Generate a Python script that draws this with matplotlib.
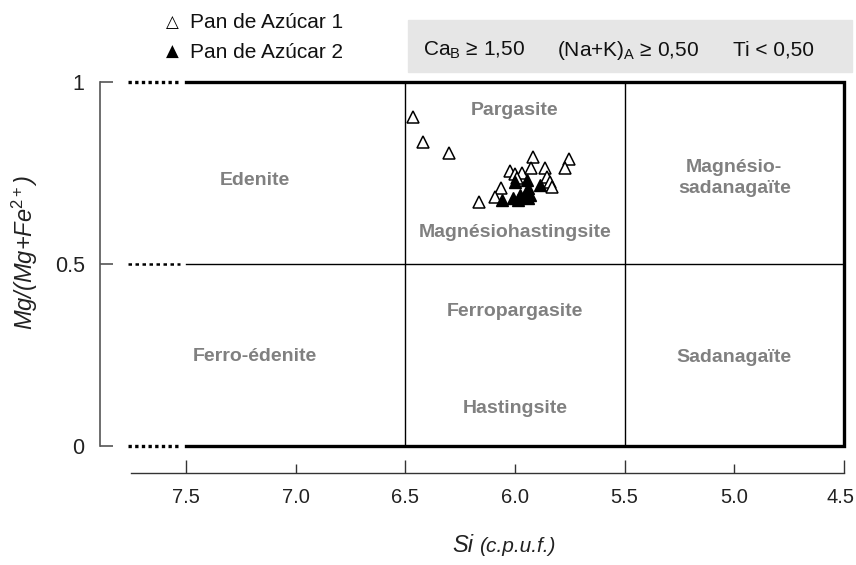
import matplotlib
matplotlib.use("Agg")
import matplotlib.pyplot as plt
from matplotlib.patches import Rectangle
from matplotlib.transforms import ScaledTranslation

plt.rcParams['font.family'] = ['Liberation Sans', 'DejaVu Sans']
plt.rcParams['mathtext.fontset'] = 'custom'
plt.rcParams['mathtext.rm'] = 'Liberation Sans'
plt.rcParams['mathtext.it'] = 'Liberation Sans:italic'

# Pan de Azucar 1 (open triangles)
si_1 = [6.463, 6.418, 6.302, 6.165, 6.064, 6.091, 6.023, 6.000, 5.969, 5.916,
        5.927, 5.863, 5.855, 5.840, 5.832, 5.754, 5.772, 5.990]
mg_1 = [0.902, 0.835, 0.805, 0.669, 0.707, 0.683, 0.756, 0.747, 0.750, 0.792,
        0.762, 0.764, 0.738, 0.726, 0.710, 0.787, 0.762, 0.735]

# Pan de Azucar 2 (filled triangles)
si_2 = [6.060, 6.000, 6.007, 5.977, 5.946, 5.939, 5.939, 5.960, 5.886, 5.930, 5.985]
mg_2 = [0.675, 0.726, 0.680, 0.689, 0.730, 0.707, 0.680, 0.683, 0.716, 0.690, 0.675]

# field names and where they sit
fields = ['Edenite', 'Pargasite', 'Magnésiohastingsite', 'Magnésio-\nsadanagaïte',
          'Ferro-édenite', 'Ferropargasite', 'Hastingsite', 'Sadanagaïte']
field_x = [7.185, 6.0, 6.0, 5.0, 7.185, 6.0, 6.0, 5.0]
field_y = [0.73, 0.922, 0.585, 0.736, 0.247, 0.368, 0.104, 0.244]

W, H = 856, 565
fig = plt.figure(figsize=(W / 100, H / 100), dpi=100)
ax = fig.add_axes([100 / W, 1 - 446 / H, (844 - 100) / W, (446 - 81.7) / H])
ax.set_xlim(7.892, 4.5)
ax.set_ylim(0, 1)

# axes styling
ax.spines['top'].set_visible(False)
ax.spines['right'].set_visible(False)
ax.spines['left'].set_color('#555555')
ax.spines['left'].set_linewidth(1.2)
ax.spines['bottom'].set_position(('outward', 19.2))
ax.spines['bottom'].set_bounds(7.75, 4.5)
ax.spines['bottom'].set_color('#333333')
ax.spines['bottom'].set_linewidth(1.0)

ax.set_yticks([0, 0.5, 1])
ax.set_yticklabels(['0', '0.5', '1'])
ax.tick_params(axis='y', direction='in', length=9.5, width=1.2, color='#555555',
               labelsize=15.5, pad=11, labelcolor='#222222')
ax.set_xticks([7.5, 6.5, 5.5, 4.5])
ax.set_xticklabels(['7.5', '6.5', '5.5', '4.5'])
ax.set_xticks([7.0, 6.0, 5.0], minor=True)
ax.set_xticklabels(['7.0', '6.0', '5.0'], minor=True)
ax.tick_params(axis='x', which='major', direction='in', length=9.6, width=1.0,
               color='#333333', labelsize=14.5, pad=11, labelcolor='#222222')
ax.tick_params(axis='x', which='minor', direction='in', length=6.2, width=1.0,
               color='#333333', labelsize=14.5, pad=11, labelcolor='#222222')
# last label sits right at the edge, nudge it in a bit
last = ax.get_xticklabels()[-1]
last.set_transform(last.get_transform() + ScaledTranslation(-4 / 100, 0, fig.dpi_scale_trans))

# classification box
ax.plot([7.5, 4.5, 4.5, 7.5], [1, 1, 0, 0], color='black', lw=2.4,
        solid_joinstyle='miter', clip_on=False)
ax.plot([6.5, 6.5], [0, 1], color='black', lw=1.0)
ax.plot([5.5, 5.5], [0, 1], color='black', lw=1.0)
ax.plot([7.5, 4.5], [0.5, 0.5], color='black', lw=1.0)
ax.plot([7.764, 7.527], [1, 1], color='black', lw=2.4, ls=(0, (1, 1)), clip_on=False)
ax.plot([7.764, 7.527], [0, 0], color='black', lw=2.4, ls=(0, (1, 1)), clip_on=False)
ax.plot([7.764, 7.527], [0.5, 0.5], color='black', lw=1.8, ls=(0, (1.4, 1.4)))

for name, x, y in zip(fields, field_x, field_y):
    ax.text(x, y, name, ha='center', va='center', fontsize=14, fontweight='bold',
            color='#808080', linespacing=1.25)

ax.plot(si_1, mg_1, '^', ms=8, mfc='white', mec='black', mew=1.1, ls='none')
ax.plot(si_2, mg_2, '^', ms=8, mfc='black', mec='black', mew=1.0, ls='none')

# axis titles
fig.text(25 / W, 1 - 252 / H, r'Mg/(Mg+Fe$^{\mathrm{2+}}$)', fontsize=17, style='italic',
         rotation=90, ha='center', va='center', color='#222222')
fig.text(452 / W, 1 - 552 / H, 'Si', fontsize=17, style='italic', ha='left',
         va='baseline', color='#222222')
fig.text(479 / W, 1 - 552 / H, '(c.p.u.f.)', fontsize=15, style='italic', ha='left',
         va='baseline', color='#222222')

# gray header with conditions
fig.patches.append(Rectangle((408 / W, 1 - 72 / H), 444 / W, 52 / H,
                             transform=fig.transFigure, color='#e6e6e6', zorder=0))
fig.text(423 / W, 1 - 50 / H, r'Ca$_\mathrm{B}$ ≥ 1,50', fontsize=15, va='center',
         color='#111111')
fig.text(557 / W, 1 - 50 / H, r'(Na+K)$_\mathrm{A}$ ≥ 0,50', fontsize=15, va='center',
         color='#111111')
fig.text(733 / W, 1 - 50 / H, 'Ti < 0,50', fontsize=15, va='center', color='#111111')

# legend
fig.text(172 / W, 1 - 22 / H, '△', fontsize=12, ha='center', va='center',
         family=['DejaVu Sans'])
fig.text(172 / W, 1 - 52 / H, '▲', fontsize=12, ha='center', va='center',
         family=['DejaVu Sans'])
fig.text(190 / W, 1 - 22 / H, 'Pan de Azúcar 1', fontsize=15, va='center', color='#111111')
fig.text(190 / W, 1 - 52 / H, 'Pan de Azúcar 2', fontsize=15, va='center', color='#111111')

fig.savefig('out.png', dpi=100)
